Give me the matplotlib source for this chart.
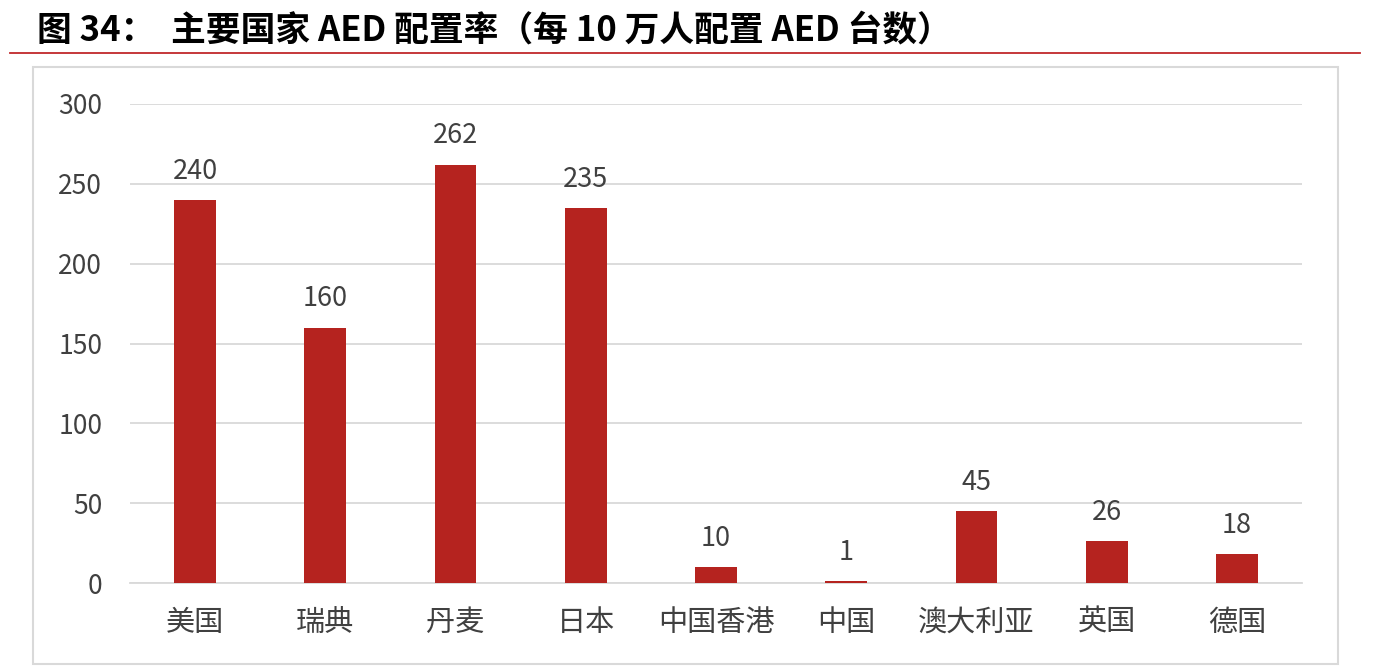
import matplotlib
matplotlib.use("Agg")
import matplotlib.pyplot as plt
from matplotlib.patches import Rectangle
from matplotlib.lines import Line2D

plt.rcParams['font.family'] = ['Noto Sans CJK SC', 'DejaVu Sans']

categories = ["美国", "瑞典", "丹麦", "日本", "中国香港", "中国", "澳大利亚", "英国", "德国"]
values = [240, 160, 262, 235, 10, 1, 45, 26, 18]
yticks = [0, 50, 100, 150, 200, 250, 300]
title = "图 34：  主要国家 AED 配置率（每 10 万人配置 AED 台数）"

W, H = 1378, 672
fig = plt.figure(figsize=(W/100, H/100), dpi=100)

# title
fig.text(37/W, 1 - 30/H, title, fontsize=25, fontweight='bold', color='black',
         ha='left', va='center')
# red rule
fig.add_artist(Line2D([10/W, 1360/W], [1 - 53/H, 1 - 53/H], color='#C0282B', lw=1.3))
# frame
fig.add_artist(Rectangle((33/W, 1 - 664/H), (1338-33)/W, (664-67)/H, fill=False,
                         edgecolor='#D9D9D9', lw=1.5))

ax = fig.add_axes([130/W, 1 - 583/H, (1302-130)/W, (583-104)/H])
x = list(range(len(categories)))
bars = ax.bar(x, values, width=0.32, color='#B5231F', zorder=3)
ax.set_xlim(-0.5, len(categories) - 0.5)
ax.set_ylim(0, 300)
ax.set_yticks(yticks)
ax.set_yticklabels([str(v) for v in yticks])
ax.set_xticks(x)
ax.set_xticklabels(categories)
ax.tick_params(axis='both', length=0, colors='#404040')
ax.tick_params(axis='y', pad=20, labelsize=19)
ax.tick_params(axis='x', pad=18, labelsize=21)
ax.grid(axis='y', color='#D9D9D9', lw=1.3, zorder=0)
for s in ['top', 'right', 'left']:
    ax.spines[s].set_visible(False)
ax.spines['bottom'].set_color('#D9D9D9')
ax.spines['bottom'].set_linewidth(1.3)
for xi, v in zip(x, values):
    ax.annotate(str(v), (xi, v), xytext=(0, 11), textcoords='offset points',
                ha='center', va='bottom', fontsize=19.5, color='#404040')

fig.savefig("out.png", dpi=100)
